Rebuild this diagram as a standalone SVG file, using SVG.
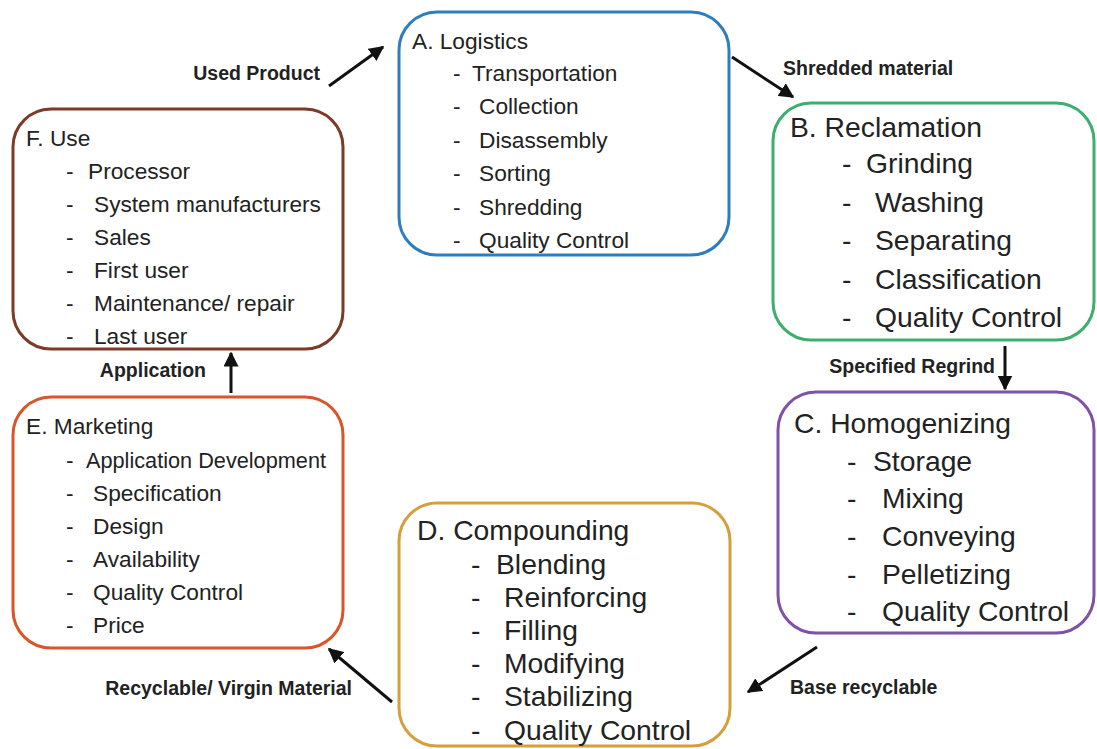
<svg xmlns="http://www.w3.org/2000/svg" width="1097" height="749" viewBox="0 0 1097 749">
<defs>
<marker id="ah" viewBox="0 0 10 10" refX="9" refY="5" markerWidth="5" markerHeight="5" orient="auto" markerUnits="strokeWidth">
<path d="M0,0 L10,5 L0,10 Z" fill="#111"/>
</marker>
<style>
.box{fill:#fff;stroke-width:3}
.t{font-family:"Liberation Sans",Arial,sans-serif;fill:#222}
.s{font-size:22.7px}
.l{font-size:28.3px}
.lab{font-family:"Liberation Sans",Arial,sans-serif;font-weight:bold;font-size:19.5px;fill:#222}
.c{stroke:#111;stroke-width:3;fill:none;marker-end:url(#ah)}
</style>
</defs>
<rect width="1097" height="749" fill="#fff"/>
<g id="connectors">
<line class="c" x1="329" y1="86" x2="383" y2="47"/>
<line class="c" x1="732" y1="57" x2="793" y2="97"/>
<line class="c" x1="1005" y1="346" x2="1005" y2="389"/>
<line class="c" x1="231" y1="393" x2="231" y2="353"/>
<line class="c" x1="817" y1="647" x2="748" y2="692"/>
<line class="c" x1="392" y1="702" x2="329" y2="649"/>
<text class="lab" x="320" y="80" text-anchor="end">Used Product</text>
<text class="lab" x="783" y="75">Shredded material</text>
<text class="lab" x="995" y="373" text-anchor="end">Specified Regrind</text>
<text class="lab" x="206" y="377" text-anchor="end">Application</text>
<text class="lab" x="790" y="694">Base recyclable</text>
<text class="lab" x="352" y="695" text-anchor="end">Recyclable/ Virgin Material</text>
</g>
<g id="nodeA">
<rect class="box" x="399" y="12" width="330" height="243" rx="38" stroke="#2e7ebf"/>
<text class="t s" x="412" y="49">A. Logistics</text>
<text class="t s" x="453" y="81">-<tspan x="472">Transportation</tspan></text>
<text class="t s" x="453" y="114">-<tspan x="479">Collection</tspan></text>
<text class="t s" x="453" y="148">-<tspan x="479">Disassembly</tspan></text>
<text class="t s" x="453" y="181">-<tspan x="479">Sorting</tspan></text>
<text class="t s" x="453" y="215">-<tspan x="479">Shredding</tspan></text>
<text class="t s" x="453" y="248">-<tspan x="479">Quality Control</tspan></text>
</g>
<g id="nodeB">
<rect class="box" x="773" y="103" width="321" height="237" rx="38" stroke="#3cae6e"/>
<text class="t l" x="790" y="137">B. Reclamation</text>
<text class="t l" x="842" y="173">-<tspan x="866">Grinding</tspan></text>
<text class="t l" x="842" y="212">-<tspan x="875">Washing</tspan></text>
<text class="t l" x="842" y="250">-<tspan x="875">Separating</tspan></text>
<text class="t l" x="842" y="289">-<tspan x="875">Classification</tspan></text>
<text class="t l" x="842" y="327">-<tspan x="875">Quality Control</tspan></text>
</g>
<g id="nodeC">
<rect class="box" x="778" y="392" width="316" height="241" rx="38" stroke="#7d52a8"/>
<text class="t l" x="794" y="433">C. Homogenizing</text>
<text class="t l" x="847" y="471">-<tspan x="873">Storage</tspan></text>
<text class="t l" x="847" y="508">-<tspan x="882">Mixing</tspan></text>
<text class="t l" x="847" y="546">-<tspan x="882">Conveying</tspan></text>
<text class="t l" x="847" y="584">-<tspan x="882">Pelletizing</tspan></text>
<text class="t l" x="847" y="621">-<tspan x="882">Quality Control</tspan></text>
</g>
<g id="nodeD">
<rect class="box" x="399" y="503" width="331" height="243" rx="38" stroke="#d4a03a"/>
<text class="t l" x="417" y="540">D. Compounding</text>
<text class="t l" x="471" y="574">-<tspan x="496">Blending</tspan></text>
<text class="t l" x="471" y="607">-<tspan x="504">Reinforcing</tspan></text>
<text class="t l" x="471" y="640">-<tspan x="504">Filling</tspan></text>
<text class="t l" x="471" y="673">-<tspan x="504">Modifying</tspan></text>
<text class="t l" x="471" y="706">-<tspan x="504">Stabilizing</tspan></text>
<text class="t l" x="471" y="740">-<tspan x="504">Quality Control</tspan></text>
</g>
<g id="nodeE">
<rect class="box" x="13" y="397" width="330" height="251" rx="38" stroke="#d9552a"/>
<text class="t s" x="26" y="434">E. Marketing</text>
<text class="t s" x="66" y="468">-<tspan x="86" textLength="240" lengthAdjust="spacingAndGlyphs">Application Development</tspan></text>
<text class="t s" x="66" y="501">-<tspan x="93">Specification</tspan></text>
<text class="t s" x="66" y="534">-<tspan x="93">Design</tspan></text>
<text class="t s" x="66" y="567">-<tspan x="93">Availability</tspan></text>
<text class="t s" x="66" y="600">-<tspan x="93">Quality Control</tspan></text>
<text class="t s" x="66" y="633">-<tspan x="93">Price</tspan></text>
</g>
<g id="nodeF">
<rect class="box" x="13" y="109" width="330" height="240" rx="38" stroke="#7b3b27"/>
<text class="t s" x="26" y="146">F. Use</text>
<text class="t s" x="66" y="179">-<tspan x="88">Processor</tspan></text>
<text class="t s" x="66" y="212">-<tspan x="94">System manufacturers</tspan></text>
<text class="t s" x="66" y="245">-<tspan x="94">Sales</tspan></text>
<text class="t s" x="66" y="278">-<tspan x="94">First user</tspan></text>
<text class="t s" x="66" y="311">-<tspan x="94">Maintenance/ repair</tspan></text>
<text class="t s" x="66" y="344">-<tspan x="94">Last user</tspan></text>
</g>
</svg>
